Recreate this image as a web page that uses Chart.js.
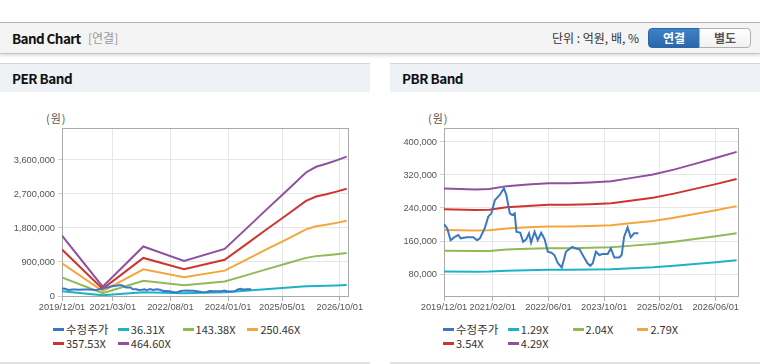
<!DOCTYPE html>
<html>
<head>
<meta charset="utf-8">
<script src="https://cdn.jsdelivr.net/npm/chart.js@4.4.1/dist/chart.umd.min.js"></script>
<style>
  html, body { margin:0; padding:0; background:#fff; }
  body { width:760px; height:364px; position:relative; overflow:hidden; font-family:"Noto Sans CJK KR","Noto Sans",sans-serif; }
  #hdr { position:absolute; left:0; top:22px; width:760px; height:30px; border-top:1px solid #b4b4b4; border-bottom:1px solid #c4c4c4; background:#f4f4f4; box-shadow:0 2px 3px rgba(0,0,0,0.13); }
  #hdr .ttl { position:absolute; left:12px; top:0; line-height:30px; font-size:13.5px; letter-spacing:-0.6px; font-weight:bold; color:#111; }
  #hdr .sub { position:absolute; left:88px; top:0; line-height:30px; font-size:12px; color:#999; }
  #hdr .unit { position:absolute; left:552px; top:0; line-height:30px; font-size:12px; color:#333; }
  .btn { position:absolute; top:5px; height:18px; width:50px; line-height:18px; text-align:center; font-size:12px; font-weight:bold; }
  #b1 { left:648px; background:linear-gradient(#3f82c8,#2b66a9); color:#fff; border:1px solid #2b66a9; border-radius:4px 0 0 4px; }
  #b2 { left:699px; background:linear-gradient(#ffffff,#f1f1f1); color:#555; border:1px solid #b0b0b0; border-radius:0 4px 4px 0; }
  .panel { position:absolute; top:63px; width:370px; height:298px; border-top:1px solid #d6d6d6; border-bottom:2px solid #e2e2e2; background:#fff; }
  .panel .bar { position:absolute; left:0; top:0; width:370px; height:28px; background:#eef2f7; }
  .panel .bar span { position:absolute; left:12px; top:0; line-height:28px; font-size:13.5px; letter-spacing:-0.5px; font-weight:bold; color:#111; }
  .unitlbl { position:absolute; top:110px; font-size:11px; color:#555; letter-spacing:1px; }
  canvas { position:absolute; top:93px; }
  .legend { position:absolute; top:322px; width:300px; }
  .li { position:absolute; height:14px; line-height:14px; font-size:11px; color:#333; white-space:nowrap; }
  .li i { position:absolute; left:0; top:6px; width:11px; height:3px; }
  .li b { position:absolute; left:13px; top:0; font-weight:normal; }
  .li b.k { font-size:11.5px; }
</style>
</head>
<body>
<div id="hdr">
  <span class="ttl">Band Chart</span>
  <span class="sub">[연결]</span>
  <span class="unit">단위 : 억원, 배, %</span>
  <div class="btn" id="b1">연결</div>
  <div class="btn" id="b2">별도</div>
</div>
<div class="panel" style="left:0"><div class="bar"><span>PER Band</span></div></div>
<div class="panel" style="left:390px"><div class="bar"><span>PBR Band</span></div></div>
<div class="unitlbl" style="left:46px">(원)</div>
<div class="unitlbl" style="left:428px">(원)</div>
<canvas id="per" width="370" height="225" style="left:0"></canvas>
<canvas id="pbr" width="370" height="225" style="left:390px"></canvas>
<div class="legend" id="perLeg" style="left:53px"></div>
<div class="legend" id="pbrLeg" style="left:443px"></div>
<script>
// ---- data (x = months since 2019/12) ----
const priceMonths = [0,0.9,1.9,3.1,4.1,4.8,6.5,8.4,9.5,10.3,11.7,12.7,13.6,14.6,16,17.2,17.9,18.9,19.6,20.3,20.8,21.9,22.7,23.6,24.4,25,26,26.9,27.9,28.9,29.8,30.8,31.7,32.7,33.8,34.4,35,36.8,37.9,38.9,40.1,41.2,42,42.7,43.6,44.6,45.5,47,47.9,48.9,50.3,51,51.7,52.7,53.6,54.6,55.8];
const priceValues = [201000,191000,162000,170000,174500,166500,169000,169000,162000,166500,191000,219000,227000,259000,271500,287700,271500,227000,223000,227000,182500,180000,158000,164000,178600,156000,182500,162000,180000,164000,134000,131600,126000,106000,96000,114000,134000,146000,142000,140000,122000,106000,100000,106000,134000,126000,128500,128500,142000,120000,120000,126000,170000,193000,169000,178600,178600];

const perMonths = [0,12,24,36,48,54,60,66,72,75,78,81,84];
const per36 = [125000,19100,102400,72300,97300,136800,176600,215700,255600,267300,273500,280600,288400];
const per143 = [493800,75600,404300,285500,384200,540100,697400,851700,1009100,1055400,1080100,1107800,1138700];
const per250 = [862600,132100,706200,498700,671200,943400,1218400,1488000,1762900,1843700,1886900,1935400,1989300];
const per357 = [1231000,188500,1008000,711800,958000,1346600,1739100,2123800,2516300,2631700,2693300,2762500,2839500];
const per464 = [1600000,245000,1310000,925000,1245000,1750000,2260000,2760000,3270000,3420000,3500000,3590000,3690000];
const perLabels = ['수정주가','36.31X','143.38X','250.46X','357.53X','464.60X'];
const perYTicks = [0,900000,1800000,2700000,3600000];
const perXTickMonths = [0,15,32,49,65,82];
const perXTickLabels = ['2019/12/01','2021/03/01','2022/08/01','2024/01/01','2025/05/01','2026/10/01'];

const pbrMonths = [0,9,13,18,24,30,36,42,48,54,60,66,72,78,84];
const pbr129 = [86300,85700,86000,88100,89300,90200,90200,90800,91700,94100,96500,100100,104300,108600,113100];
const pbr204 = [136500,135500,136000,139300,141200,142700,142700,143600,145000,148800,152600,158300,165000,171700,178800];
const pbr279 = [186600,185300,186000,190500,193100,195100,195100,196400,198300,203500,208700,216500,225700,234800,244500];
const pbr354 = [236800,235200,236000,241800,245100,247600,247600,249200,251700,258300,264900,274800,286300,297900,310300];
const pbr429 = [287000,285000,286000,293000,297000,300000,300000,302000,305000,313000,321000,333000,347000,361000,376000];
const pbrLabels = ['수정주가','1.29X','2.04X','2.79X','3.54X','4.29X'];
const pbrYTicks = [80000,160000,240000,320000,400000];
const pbrXTickMonths = [0,14,30,46,62,78];
const pbrXTickLabels = ['2019/12/01','2021/02/01','2022/06/01','2023/10/01','2025/02/01','2026/06/01'];

const colors = ['#3a78c4','#1fb1c6','#8fba55','#f4a63a','#d0342e','#91509f'];

// pick a narrow tick font if it is installed
const tickFont = (function () {
  const c = document.createElement('canvas').getContext('2d');
  c.font = '11px monospace';
  const a = c.measureText('2019/12/01').width;
  c.font = '11px "Liberation Sans Narrow", monospace';
  const b = c.measureText('2019/12/01').width;
  return Math.abs(a - b) > 0.5 ? {family: '"Liberation Sans Narrow"', size: 11} : {family: 'Liberation Sans', size: 9.3};
})();

function pts(xs, ys) { return xs.map((x, i) => ({x: x, y: ys[i]})); }

const framePlugin = {
  id: 'frame',
  beforeDatasetsDraw(chart) {
    const a = chart.chartArea, c = chart.ctx;
    c.save(); c.strokeStyle = '#aaaaaa'; c.lineWidth = 1;
    c.strokeRect(Math.round(a.left) + 0.5, Math.round(a.top) + 0.5, Math.round(a.right - a.left), Math.round(a.bottom - a.top));
    c.restore();
  }
};

function makeChart(id, labels, series, yMin, yMax, yTicks, xTicks, xLabels, leftW, legId) {
  const datasets = [{label: labels[0], data: pts(priceMonths, priceValues)}]
    .concat(series.map((s, i) => ({label: labels[i + 1], data: pts(s.m, s.v)})))
    .map((d, i) => Object.assign(d, {borderColor: colors[i], backgroundColor: colors[i], borderWidth: 2, pointRadius: 0, tension: 0, fill: false}));
  new Chart(document.getElementById(id), {
    type: 'line',
    data: {datasets: datasets},
    plugins: [framePlugin],
    options: {
      responsive: false, animation: false, devicePixelRatio: 1,
      layout: {padding: {top: 35, right: 22, left: 0, bottom: 0}},
      plugins: {legend: {display: false}, tooltip: {enabled: false}},
      scales: {
        x: {
          type: 'linear', min: 0, max: 84.4,
          afterBuildTicks: s => { s.ticks = xTicks.map(v => ({value: v})); },
          afterFit: s => { s.height = 22; },
          ticks: {autoSkip: false, maxRotation: 0, color: '#555', font: tickFont, padding: 1,
                  callback: v => xLabels[xTicks.indexOf(v)]},
          grid: {color: '#e6e6e6', tickColor: '#b0b0b0', tickLength: 5},
          border: {color: '#aaaaaa'}
        },
        y: {
          min: yMin, max: yMax,
          afterBuildTicks: s => { s.ticks = yTicks.map(v => ({value: v})); },
          afterFit: s => { s.width = leftW; },
          ticks: {color: '#555', font: tickFont, padding: 3,
                  callback: v => v.toLocaleString('en-US')},
          grid: {color: '#e6e6e6', tickColor: '#d0d0d0', tickLength: 4},
          border: {color: '#aaaaaa'}
        }
      }
    }
  });
  const leg = document.getElementById(legId);
  labels.forEach((t, i) => {
    const d = document.createElement('div');
    d.className = 'li';
    d.style.left = ((i % 4) * 64.8) + 'px';
    d.style.top = (Math.floor(i / 4) * 14) + 'px';
    d.innerHTML = '<i style="background:' + colors[i] + '"></i><b' + (i === 0 ? ' class="k"' : '') + '>' + t + '</b>';
    leg.appendChild(d);
  });
}

makeChart('per', perLabels,
  [{m: perMonths, v: per36}, {m: perMonths, v: per143}, {m: perMonths, v: per250}, {m: perMonths, v: per357}, {m: perMonths, v: per464}],
  0, 4447000, perYTicks, perXTickMonths, perXTickLabels, 62, 'perLeg');
makeChart('pbr', pbrLabels,
  [{m: pbrMonths, v: pbr129}, {m: pbrMonths, v: pbr204}, {m: pbrMonths, v: pbr279}, {m: pbrMonths, v: pbr354}, {m: pbrMonths, v: pbr429}],
  26700, 433900, pbrYTicks, pbrXTickMonths, pbrXTickLabels, 54, 'pbrLeg');
</script>
</body>
</html>
